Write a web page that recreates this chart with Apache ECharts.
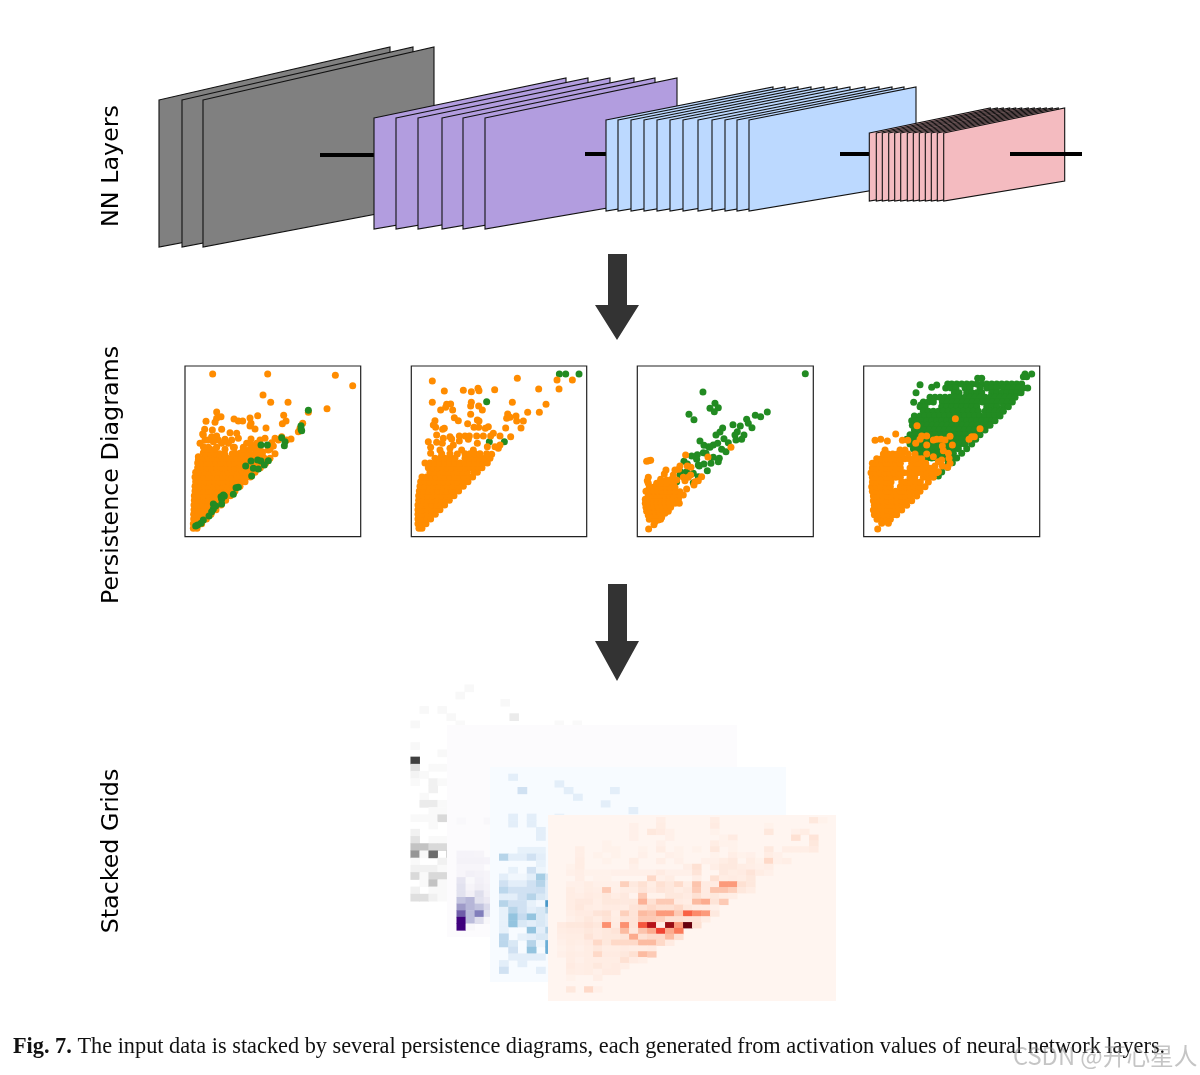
<!DOCTYPE html>
<html><head><meta charset="utf-8"><style>html,body{margin:0;padding:0;background:#fff}#c{width:1200px;height:1075px;filter:blur(0.45px)}</style>
<script src="https://cdn.jsdelivr.net/npm/echarts@6/dist/echarts.min.js"></script></head><body><div id="c"></div>
<script>
// ---------- network layers: left edges of each sheet and sheet outline [width, topLeft, topRight, bottomRight, bottomLeft]
const grayLefts = [159,182,203];
const grayShape = [231,100,47,203,247];
const purpleLefts = [374,396,418,442,463,485];
const purpleShape = [192,118,78,196,229];
const blueLefts = [606,618,631,644,657,670,683,698,712,725,737,749];
const blueShape = [167,120,87,183,211];
const pinkLefts = [869.3,876.3,882.3,888.7,894.7,900.7,907.3,913.3,919.3,925.3,931.3,937.3,943.7];
const pinkShape = [121,133,108,181,201];
// connector segments [x0,x1,y]
const connectors = [[320,374,155],[585,606,154],[840,869,154],[1010,1082,154]];
// arrows [shaftLeft, shaftRight, top, headBase, tip, headLeft, headRight]
const arrows = [[608,627,254,305,340,595,639],[608,627,584,641,681,595,639]];
// ---------- persistence diagrams; sparse points [x,y], dense rows [y, x, x, ...]
const p1OrangeSparse = [[113,42],[278,42],[481,46],[533,77],[264,105],[287,127],[339,127],[456,146],[400,157],[125,156],[138,170],[125,175],[120,187],[93,184],[177,177],[190,183],[203,183],[225,174],[248,167],[326,166],[333,183],[322,191],[228,190],[383,190],[375,205],[370,215],[225,198],[240,207],[273,204],[89,208],[83,222],[112,210],[140,208],[165,218],[185,220],[125,228],[75,250],[90,240],[110,230],[130,240],[150,238],[170,240],[190,235],[228,237],[215,250],[255,240],[270,235],[300,235],[320,230],[348,237],[335,240],[175,262],[85,260],[100,262],[125,262],[240,265],[215,272],[195,280],[70,290],[85,225],[100,240],[115,245],[140,250],[160,250],[178,262],[205,262],[230,255],[245,250],[255,258],[290,248],[310,240],[98,280],[85,278],[70,300],[120,290],[150,285],[180,280],[210,285],[245,280],[262,275],[280,270],[295,258]];
const p1OrangeRows = [[505,55,66],[491,55,68,80],[477,56,70,84,94],[463,56,70,84,98,108],[449,57,71,85,99,113,123],[435,57,71,85,99,113,127,138],[421,58,72,86,100,114,128,142,152],[407,58,72,86,100,114,128,142,156,166],[393,60,74,88,102,116,130,144,158,172,180],[379,60,74,88,102,116,130,144,158,172,186,195],[365,62,76,90,104,118,132,146,160,174,188,200,210],[351,60,74,88,102,116,130,144,158,172,186,200,214,226],[337,62,76,90,104,118,132,146,160,174,188,202,216,230,240],[323,68,82,96,110,124,138,152,166,180,194,208,222,236,250,256],[309,68,82,96,110,124,138,152,166,180,194,208,222,236,250,264,272],[295,72,86,100,114,128,142,156,170,184,198,212,226,240,254,268,285],[281,92,106,120,134,148,172,200,222,240,250,262,300],[268,90,105,120,150,205,225,245,285]];
const p1Green = [[400,151],[378,197],[378,207],[380,212],[320,233],[330,245],[328,257],[258,255],[277,255],[248,300],[258,303],[280,302],[228,303],[268,315],[212,318],[235,325],[250,327],[230,348],[190,382],[183,383],[175,403],[145,405],[138,410],[148,408],[140,418],[140,432],[115,432],[122,438],[115,447],[110,455],[102,468],[85,480],[78,490],[68,495],[62,498]];

const p2OrangeSparse = [[97,63],[352,55],[471,60],[517,60],[477,87],[416,87],[133,93],[190,91],[214,95],[234,85],[237,92],[284,89],[97,127],[214,127],[212,138],[236,138],[152,132],[140,133],[137,142],[122,150],[158,150],[247,150],[337,127],[438,133],[383,157],[418,157],[212,163],[163,173],[175,182],[105,182],[100,195],[107,202],[203,191],[232,180],[237,183],[323,162],[320,175],[330,172],[348,168],[350,183],[370,183],[363,204],[317,204],[133,205],[128,208],[222,202],[236,202],[256,205],[265,200],[110,225],[150,230],[155,237],[178,228],[195,228],[208,228],[205,238],[230,228],[250,228],[280,220],[272,228],[300,228],[332,230],[85,245],[110,247],[130,235],[127,250],[178,243],[232,250],[160,255],[150,265],[92,262],[262,260],[285,260],[300,255],[295,265],[220,270],[185,270],[172,282],[92,280],[120,270],[275,283]];
const p2OrangeRows = [[505,57,66],[491,54,66,78],[477,54,66,80,92],[463,54,68,82,96,106],[449,54,68,82,96,110,120],[435,54,68,82,96,110,124,134],[421,56,70,84,98,112,126,138,148],[407,56,70,84,98,112,126,140,152,162],[393,58,72,86,100,114,128,142,156,166,176],[379,60,74,88,102,116,130,144,158,172,180,190],[365,62,76,90,104,118,132,146,160,174,188,194,204],[351,66,80,94,108,122,136,150,164,178,192,208,218],[337,90,104,118,132,146,160,174,188,202,222,232],[323,85,99,113,127,141,155,169,183,197,211,225,236,246],[309,75,90,105,120,135,150,165,180,195,210,225,240,250,262],[295,105,120,135,150,165,195,210,225,240,255,270],[281,125,150,195,210,225,240,260]];
const p2Green = [[478,42],[497,42],[537,42],[260,125],[313,245],[268,245]];

const p3Green = [[526,41],[219,96],[255,130],[240,145],[265,143],[253,155],[177,163],[192,179],[412,156],[376,166],[392,170],[350,178],[355,190],[366,203],[309,194],[331,198],[278,204],[270,216],[258,225],[322,215],[315,225],[342,225],[335,238],[318,240],[210,243],[222,256],[236,260],[250,255],[263,250],[282,236],[295,248],[275,268],[288,275],[220,278],[202,284],[200,298],[250,292],[268,295],[265,305],[162,304],[185,288],[172,312],[208,318],[222,312],[243,310],[232,332],[152,335],[170,335],[190,340],[205,350],[140,365],[190,368],[150,345],[228,280],[205,315],[240,262]];
const p3OrangeSparse = [[303,262],[234,291],[56,302],[62,301],[50,304],[167,285],[150,318],[146,328],[172,318],[183,322],[108,330],[103,342],[135,330],[182,345],[175,352],[160,352],[165,362],[215,350],[205,362],[195,365],[192,375],[170,387],[160,405],[55,352],[52,362],[92,358],[130,345],[125,358],[56,507],[72,494],[140,400],[150,395],[120,440],[135,420],[105,460],[95,472],[85,480],[75,485],[145,415],[125,405],[115,385],[130,375],[110,360],[140,360]];
const p3OrangeRows = [[478,58,70,92],[466,55,68,80,95],[454,50,62,75,88,100,115],[442,48,60,72,85,98,110,122],[430,46,58,70,82,94,106,118,135,148],[418,46,58,70,82,94,106,118,130,145],[406,55,68,80,92,105,118,130,150],[394,48,60,72,84,96,110,122,135],[382,58,70,82,95,108,120,135],[370,55,80,95,110,130]];

const p4GreenSparse = [[510,42],[530,42],[505,50],[515,50],[368,55],[380,55],[195,74],[245,75],[230,82],[183,98],[176,127],[197,135]];
const p4GreenRows = [[72,278,290,305,320,335,350,365,380,395,410,425,440,455,470,485,500],[84,272,288,303,330,345,375,395,410,425,445,460,475,490,505,518],[98,298,312,335,350,365,380,410,425,440,455,470,485,498],[112,225,240,255,270,285,300,315,330,345,360,375,390,405,420,435,450,465,480],[126,205,220,235,262,277,292,307,322,337,352,367,382,397,412,427,442,457,472],[140,195,210,260,275,290,305,320,335,350,365,395,410,425,445,460],[154,205,220,235,250,265,280,295,310,325,340,355,370,390,405,420,435,445],[168,178,195,210,225,240,255,270,285,300,315,330,345,360,375,390,405,420,435],[182,170,185,200,215,230,245,260,275,290,305,320,335,350,365,380,395,410,420],[196,172,187,202,217,232,247,262,277,292,307,322,337,352,367,382,397,405],[210,178,193,208,223,238,253,268,283,298,313,328,343,358,373,390],[224,165,180,195,210,225,240,255,270,285,300,315,330,345,360,375],[238,155,170,185,200,215,230,245,260,275,290,305,320,335,350,362],[252,165,180,195,210,225,240,255,270,285,300,315,330,350],[266,175,190,205,220,235,250,265,280,295,310,335],[280,190,205,220,235,250,265,280,295,320],[294,200,215,230,245,260,275,290,305],[308,280,292],[322,277],[336,260],[348,250]];
const p4OrangeSparse = [[301,176],[186,197],[122,222],[60,241],[77,238],[97,243],[142,241],[158,241],[375,206],[358,230],[350,230],[342,238],[200,228],[215,228],[182,250],[195,238],[215,255],[235,240],[245,238],[258,238],[270,240],[285,229],[292,255],[262,258],[265,272],[280,280],[215,282],[235,290],[282,295],[285,310],[260,300],[250,305],[240,318],[262,318],[278,322],[190,296],[203,310],[230,330],[250,335],[68,507]];
const p4OrangeRows = [[490,80,100],[478,66,80,95,106],[464,58,72,86,100,114,125],[450,55,69,83,97,111,125,140],[436,58,72,86,100,114,128,142,155],[422,55,69,83,97,111,125,139,153,170],[408,55,69,83,97,111,125,139,153,167,185],[394,52,66,80,94,108,122,136,150,164,178,195],[380,50,64,78,92,106,136,150,164,178,192,210],[366,52,66,80,94,108,140,154,168,182,196,220],[352,52,66,80,94,108,122,136,165,179,205,220,235],[338,48,62,76,90,104,118,132,146,160,174,188,202,216,230,245],[324,52,66,80,94,108,122,136,165,179,193,207,221,235],[310,52,66,80,94,108,122,136,170,184,198,212],[296,65,79,93,107,121,135,149,163,177,200],[282,85,99,113,127,141,160,180],[270,90,135,150]];
// ---------- stacked grids, rows [row, col, value, col, value, ...]
const gridIndex = Array.from({length:32},(_,i)=>String(i));
const grayCells = [[0,6,.06],[1,5,.06],[2,10,.06],[3,1,.06,3,.06],[4,4,.06,11,.15],[5,0,.06,5,.05,16,.05,18,.05],[8,0,.06],[9,3,.06],[10,0,.8],[11,0,.2,2,.05,3,.05],[12,0,.1,1,.05],[13,0,.05,2,.12,3,.05],[14,2,.12],[15,1,.05],[16,1,.15,2,.15,3,.05],[17,2,.05,3,.05],[18,0,.05,1,.05,2,.05,3,.25],[19,2,.05],[20,0,.12],[21,0,.2,2,.05,3,.05],[22,0,.35,1,.35,2,.25,3,.25],[23,0,.5,1,.05,2,.65,4,.4],[24,0,.05,3,.12],[25,0,.12,1,.12,2,.12,3,.05],[26,0,.25,1,.05,2,.25,3,.25],[27,1,.05,2,.35,3,.05],[28,0,.12,2,.05,3,.05],[29,0,.22,1,.22,2,.12,3,.05]];
const purpleCells = [[14,1,.03,4,.04],[19,1,.07,2,.07,3,.06],[20,1,.08,2,.08,3,.08,4,.07],[21,1,.05,2,.05,3,.05],[22,1,.05,2,.1,3,.08,4,.06],[23,1,.18,2,.03,3,.1,4,.06],[24,1,.2,2,.06,3,.12,4,.08],[25,1,.2,2,.1,3,.22,4,.1],[26,1,.35,2,.4,3,.2,4,.15],[27,1,.5,2,.4,3,.35,4,.25],[28,1,.72,2,.38,3,.62,4,.2],[29,1,1,2,.38,3,.22,4,.04],[30,1,1,2,.04]];
const blueCells = [[1,2,.1],[2,7,.1],[3,3,.2,8,.1,13,.1],[4,9,.1],[5,12,.1],[6,15,.1],[7,2,.1,4,.1,7,.08],[8,2,.1,4,.1],[9,5,.1],[10,5,.1],[12,3,.08,4,.08,5,.08],[13,1,.3,2,.1,3,.1,4,.2,5,.1],[14,5,.08],[15,2,.08,4,.2,5,.05],[16,1,.1,2,.03,3,.03,4,.1,5,.35,6,.15],[17,1,.2,2,.1,3,.1,4,.2,5,.3,6,.1],[18,1,.28,2,.2,3,.2,4,.2,5,.22,6,.1],[19,1,.1,2,.1,3,.2,4,.3,5,.15,6,.1],[20,1,.3,2,.2,3,.2,4,.08,5,.02,6,.6],[21,1,.08,2,.3,3,.2,4,.1,5,.15,6,.3],[22,1,.08,2,.4,3,.25,4,.4,5,.15,6,.1],[23,1,.08,2,.4,3,.15,4,.1,5,.15,6,.1],[24,1,.08,4,.4,5,.1,6,.3],[25,1,.28,3,.08,4,.1,5,.15,6,.15],[26,1,.28,2,.15,4,.3,5,.05,6,.5],[27,2,.2,4,.4,6,.5],[28,2,.1,3,.1,4,.1,5,.1],[29,1,.1,3,.1],[30,1,.2,5,.1]];
const redCells = [[0,12,.04,18,.05,29,.08,30,.02],[1,9,.03,12,.05,18,.06,24,.02],[2,9,.03,11,.08,12,.06,13,.03,18,.02,24,.08,27,.03,28,.05],[3,9,.03,13,.03,19,.02,20,.06,27,.12,29,.1],[4,6,.02,12,.03,18,.05,19,.02,20,.02,29,.08],[5,3,.04,6,.02,7,.02,10,.02,12,.05,14,.02,16,.02,18,.08,20,.02,24,.07,26,.04,27,.04,28,.04,29,.06],[6,3,.04,5,.02,7,.02,10,.03,13,.03,14,.02,18,.02,20,.04,21,.02,22,.03,24,.05,25,.03],[7,3,.05,6,.02,9,.05,12,.04,14,.03,17,.03,18,.03,19,.05,20,.07,22,.05,23,.02,24,.15,25,.03,26,.04],[8,2,.02,3,.05,9,.03,15,.04,16,.12,18,.04,19,.07,20,.07,21,.05,22,.04,23,.03,24,.04],[9,2,.03,3,.04,4,.02,5,.02,6,.02,7,.03,8,.03,9,.03,10,.03,11,.03,12,.06,13,.03,14,.03,15,.03,16,.1,19,.07,20,.05,21,.06,22,.1,23,.05,24,.03],[10,3,.04,5,.02,6,.02,11,.15,12,.03,13,.05,16,.04,18,.12,19,.05,20,.06,21,.05,22,.08],[11,2,.03,3,.03,4,.05,5,.03,6,.03,7,.03,8,.18,9,.07,10,.12,11,.05,12,.12,13,.08,14,.14,15,.05,16,.22,17,.06,18,.06,19,.35,20,.35,21,.12,22,.08],[12,2,.05,3,.03,4,.05,5,.04,6,.2,7,.03,8,.05,9,.05,10,.1,11,.06,12,.1,13,.08,14,.05,15,.07,16,.2,17,.06,18,.22,19,.22,20,.18,21,.08,22,.05],[13,2,.05,3,.04,4,.06,5,.05,6,.08,7,.05,8,.07,9,.01,10,.2,11,.02,12,.02,13,.08,14,.08,15,.06,16,.12,17,.06,18,.08,19,.05,20,.04],[14,2,.05,3,.07,4,.07,5,.04,6,.08,7,.08,8,.07,9,.08,10,.28,11,.12,12,.2,13,.2,14,.06,15,.05,16,.25,17,.3,18,.1,19,.2],[15,2,.05,3,.08,4,.05,5,.04,6,.06,7,.06,8,.05,9,.1,10,.12,11,.15,12,.12,13,.12,14,.15,15,.08,16,.06,17,.06,18,.03],[16,2,.04,3,.06,4,.06,5,.1,6,.12,7,.04,8,.18,9,.1,10,.25,11,.22,12,.35,13,.35,14,.2,15,.52,16,.4,17,.35,18,.07],[17,2,.03,3,.05,4,.08,5,.05,6,.1,7,.05,8,.1,9,.1,10,.2,11,.2,12,.18,13,.12,14,.12,15,.1,16,.1,17,.05],[18,1,.06,2,.08,3,.08,4,.1,5,.08,6,.38,7,.06,8,.38,9,.1,10,.55,11,.82,12,.05,13,.9,14,.35,15,1,16,.12],[19,1,.05,2,.06,3,.06,4,.08,5,.06,6,.08,7,.1,8,.25,9,.08,10,.22,11,.3,12,.6,13,.3,14,.45],[20,1,.04,2,.05,3,.05,4,.1,5,.06,6,.08,7,.08,8,.1,9,.3,10,.12,11,.15,12,.15,13,.25,14,.12],[21,1,.03,2,.05,3,.04,4,.06,5,.15,6,.08,7,.15,8,.15,9,.15,10,.25,11,.25,12,.15,13,.06],[22,1,.02,2,.04,3,.03,4,.05,5,.08,6,.05,7,.05,8,.06,9,.05,10,.05,11,.06],[23,1,.03,2,.05,3,.04,4,.05,5,.15,6,.06,7,.06,8,.08,9,.12,10,.25,11,.2],[24,2,.05,3,.03,4,.05,5,.05,6,.05,7,.05,8,.12,9,.06,10,.04],[25,2,.06,3,.04,4,.05,5,.08,6,.05,7,.06,8,.04],[26,2,.05,3,.04,4,.05,5,.03,6,.06,7,.06],[27,2,.02,5,.04],[29,2,.08,4,.15,5,.03]];
// panel page slots and source ranges
const panels = [
 {l:185,w:175.7,x:[30,557],g:[p1Green],o:[p1OrangeSparse,p1OrangeRows],greenTop:true},
 {l:411.3,w:175.4,x:[34,560],g:[p2Green],o:[p2OrangeSparse,p2OrangeRows]},
 {l:637.3,w:176,x:[22,550],g:[p3Green],o:[p3OrangeSparse,p3OrangeRows]},
 {l:863.7,w:176,x:[26,554],g:[p4GreenSparse,p4GreenRows],o:[p4OrangeSparse,p4OrangeRows]}
];
const rows = r=>r.flatMap(([y,...xs])=>xs.map(x=>[x,y]));
const cells = r=>r.flatMap(([row,...a])=>{const o=[];for(let i=0;i<a.length;i+=2)o.push([a[i],row,a[i+1]]);return o;});

const grid=[{left:0,top:0,width:1200,height:1075,show:false}];
const xAxis=[{gridIndex:0,type:'value',min:0,max:1200,show:false}];
const yAxis=[{gridIndex:0,type:'value',min:0,max:1075,inverse:true,show:false}];
const series=[];
const quad=(color,shape,lefts,z)=>series.push({type:'custom',xAxisIndex:0,yAxisIndex:0,z,silent:true,clip:false,
  data:lefts.map(l=>[l,l+shape[0],shape[1],shape[2],shape[3],shape[4]]),
  renderItem:(p,api)=>{const x0=api.value(0),x1=api.value(1);
    const pts=[[x0,api.value(2)],[x1,api.value(3)],[x1,api.value(4)],[x0,api.value(5)]].map(q=>api.coord(q));
    return {type:'polygon',shape:{points:pts},style:{fill:color,stroke:'#111111',lineWidth:1.1}};}});
const conn=(c,z)=>series.push({type:'line',xAxisIndex:0,yAxisIndex:0,z,silent:true,showSymbol:false,symbol:'none',data:[[c[0],c[2]],[c[1],c[2]]],lineStyle:{color:'#000',width:4,cap:'butt'}});
quad('#808080',grayShape,grayLefts,2); conn(connectors[0],3);
quad('#b29ddf',purpleShape,purpleLefts,4); conn(connectors[1],5);
quad('#bcd9ff',blueShape,blueLefts,6); conn(connectors[2],7);
quad('#f4bbc0',pinkShape,pinkLefts,8); conn(connectors[3],9);
series.push({type:'custom',xAxisIndex:0,yAxisIndex:0,z:2,silent:true,clip:false,data:arrows,
  renderItem:(p,api)=>{const v=i=>api.value(i),a=v(0),b=v(1),t=v(2),h=v(3),tip=v(4),l=v(5),r=v(6);
    const pts=[[a,t],[b,t],[b,h],[r,h],[(l+r)/2,tip],[l,h],[a,h]].map(q=>api.coord(q));
    return {type:'polygon',shape:{points:pts},style:{fill:'#333333'}};}});
panels.forEach((P,i)=>{
  const gi=grid.length;
  grid.push({left:P.l,top:366,width:P.w,height:170.7,show:true,borderColor:'#222',borderWidth:1.2,backgroundColor:'#fff'});
  xAxis.push({gridIndex:gi,type:'value',min:P.x[0],max:P.x[1],show:false});
  yAxis.push({gridIndex:gi,type:'value',min:18,max:530,inverse:true,show:false});
  const orange=[...P.o[0],...rows(P.o[1])];
  const green=P.g.length>1?[...P.g[0],...rows(P.g[1])]:P.g[0];
  const mk=(d,c,z)=>({type:'scatter',xAxisIndex:gi,yAxisIndex:gi,z,silent:true,clip:false,symbolSize:7,data:d,itemStyle:{color:c,opacity:1}});
  series.push(mk(orange,'#ff8c00',P.greenTop?3:4),mk(green,'#228b22',P.greenTop?4:3));
});
const bgRect=(c,x0,y0,x1,y1,z)=>series.push({type:'custom',xAxisIndex:0,yAxisIndex:0,z,silent:true,clip:false,data:[[x0,y0,x1,y1]],
  renderItem:(p,api)=>{const a=api.coord([api.value(0),api.value(1)]),b=api.coord([api.value(2),api.value(3)]);
    return {type:'rect',shape:{x:a[0],y:a[1],width:b[0]-a[0],height:b[1]-a[1]},style:{fill:c}};}});
const visualMap=[];
const heat=(d,box,colors,z)=>{
  const gi=grid.length;
  grid.push({left:box[0],top:box[1],width:box[2],height:box[3],show:false});
  xAxis.push({gridIndex:gi,type:'category',data:gridIndex,show:false});
  yAxis.push({gridIndex:gi,type:'category',data:gridIndex,inverse:true,show:false});
  const si=series.length;
  series.push({type:'heatmap',xAxisIndex:gi,yAxisIndex:gi,z,silent:true,progressive:0,data:cells(d),itemStyle:{borderWidth:0}});
  visualMap.push({type:'continuous',show:false,seriesIndex:si,dimension:2,min:0,max:1,inRange:{color:colors}});
};
heat(grayCells,[410.7,684.7,288,231],['#ffffff','#f0f0f0','#d9d9d9','#bdbdbd','#969696','#737373','#525252','#252525','#000000'],2);
bgRect('#fcfbfd',447,725,737,937,3);
heat(purpleCells,[447.7,725,289.6,212],['#fcfbfd','#efedf5','#dadaeb','#bcbddc','#9e9ac8','#807dba','#6a51a3','#54278f','#3f007d'],4);
bgRect('#f7fbff',490,767,786,982,5);
heat(blueCells,[490,767.3,296,213],['#f7fbff','#deebf7','#c6dbef','#9ecae1','#6baed6','#4292c6','#2171b5','#08519c','#08306b'],6);
bgRect('#fff5f0',548,815,836,1001,7);
heat(redCells,[548.3,817.3,288,186.7],['#fff5f0','#fee0d2','#fcbba1','#fc9272','#fb6a4a','#ef3b2c','#cb181d','#a50f15','#67000d'],8);

const vtext=(t,y)=>({type:'text',x:112,y,rotation:Math.PI/2,z:20,silent:true,
  style:{text:t,fill:'#000',font:'23.8px "DejaVu Sans"',textAlign:'center',textVerticalAlign:'middle'}});
const graphic=[vtext('NN Layers',166),vtext('Persistence Diagrams',475),vtext('Stacked Grids',851),
 {type:'text',left:13,top:1036,z:20,silent:true,style:{
   text:'{b|Fig. 7.} The input data is stacked by several persistence diagrams, each generated from activation values of neural network layers.',
   rich:{b:{font:'bold 22.3px "Liberation Serif"',fill:'#111'}},font:'22.3px "Liberation Serif"',fill:'#111'}},
 {type:'text',left:1013,top:1044,z:21,silent:true,style:{text:'CSDN @开心星人',font:'23.7px "Noto Sans CJK SC"',fill:'rgba(140,140,140,0.5)'}}
];
const chart=echarts.init(document.getElementById('c'),null,{renderer:'canvas'});
chart.setOption({animation:false,backgroundColor:'#fff',grid,xAxis,yAxis,series,visualMap,graphic});
</script></body></html>
